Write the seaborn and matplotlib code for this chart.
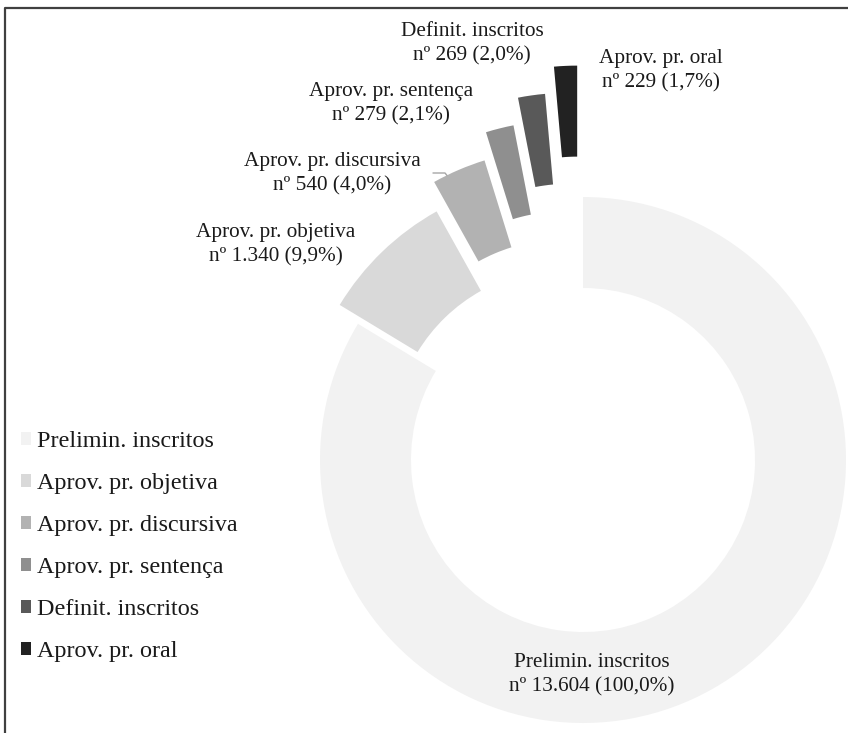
import matplotlib
matplotlib.use("Agg")
import matplotlib.pyplot as plt
import seaborn as sns

# data
categories = ["Prelimin. inscritos", "Aprov. pr. objetiva", "Aprov. pr. discursiva",
              "Aprov. pr. sentença", "Definit. inscritos", "Aprov. pr. oral"]
counts = [13604, 1340, 540, 279, 269, 229]
colors = ["#f2f2f2", "#d9d9d9", "#b2b2b2", "#8f8f8f", "#595959", "#222222"]

# layout (pixel space, y up)
W, H = 848, 733
center = (583, 273)
radius = 263
ring_width = 91
explode_frac = [0, 0.1, 0.2, 0.3, 0.4, 0.5]
label_pos = [(592, 58), (276, 488), (332, 559), (391, 629), (472, 689), (661, 662)]


def fmt_label(name, n, base):
    num = f"{n:,}".replace(",", ".")
    pct = f"{100 * n / base:.1f}".replace(".", ",")
    return f"{name}\nnº {num} ({pct}%)"


sns.set_theme(style="white")
plt.rcParams["font.family"] = ["Liberation Serif", "DejaVu Serif"]

fig = plt.figure(figsize=(W / 100, H / 100), dpi=100)
ax = fig.add_axes([0, 0, 1, 1])

wedges, _ = ax.pie(counts, colors=colors, startangle=90, counterclock=False,
                   explode=[e * radius for e in explode_frac],
                   radius=radius, center=center,
                   wedgeprops=dict(width=ring_width, edgecolor="none"))

ax.set_xlim(0, W)
ax.set_ylim(0, H)
ax.set_aspect("equal")
ax.axis("off")

for name, n, (x, y) in zip(categories, counts, label_pos):
    ax.text(x, y, fmt_label(name, n, counts[0]), ha="center", va="center",
            multialignment="center", fontsize=15.3, linespacing=1.4,
            color="#1a1a1a")

# small leader line for the discursiva label
ax.plot([433, 445, 447], [560, 560, 557.5], color="#a6a6a6", lw=1)

# frame lines (top and left only)
ax.plot([5, 5, W], [0, 725, 725], color="#404040", lw=1.6, solid_capstyle="butt")

leg = ax.legend(wedges, categories, loc="center left",
                bbox_to_anchor=(21 / W, (H - 546.5) / H), frameon=False,
                fontsize=17.4, handlelength=0.42, handleheight=0.42,
                handletextpad=0.25, labelspacing=0.87, borderpad=0, borderaxespad=0)
for t in leg.get_texts():
    t.set_color("#1a1a1a")

fig.savefig("out.png", dpi=100)
